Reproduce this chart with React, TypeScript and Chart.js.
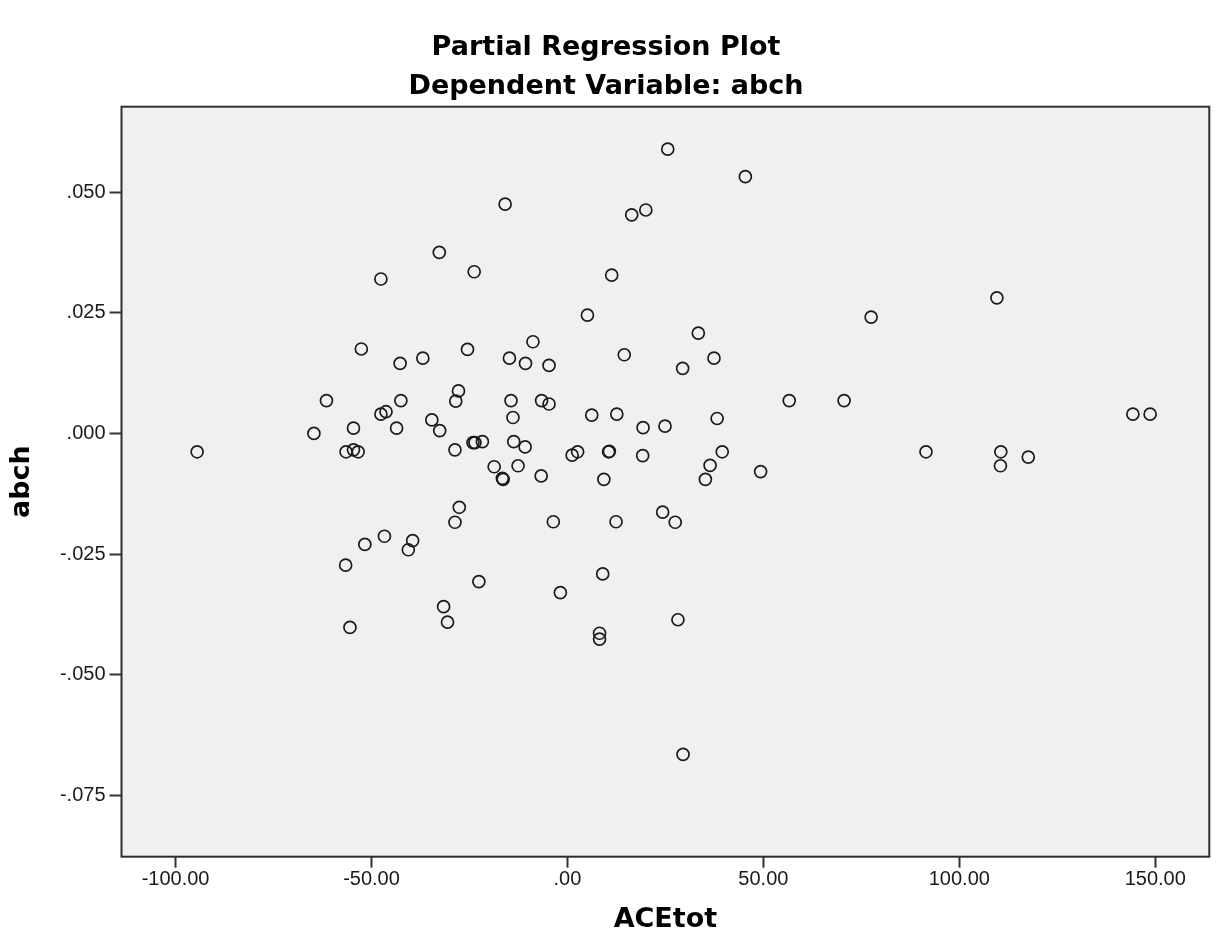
import React, { useEffect, useRef } from 'react';
import { Chart, registerables } from 'chart.js';

Chart.register(...registerables);

// ACEtot (x) and abch (y) partial residuals
const aceTot = [
  -94.5, -15.9, -32.7, -23.8, -47.6, 5.1, -52.6, -25.5, -8.8, -42.7,
  -36.9, -14.8, -10.7, -4.7, -61.5, -42.5, -27.8, -28.5, -14.4, -6.6,
  -4.7, -13.9, 6.2, -47.6, -46.3, -34.6, -32.6, -54.6, -43.6, -64.7,
  -56.5, -54.6, -53.4, -28.7, -24.1, -23.6, -21.7, -13.7, -10.8, 1.2,
  2.6, -18.7, -12.6, -16.6, -16.4, -6.7, -27.6, -28.7, -3.6, -46.7,
  -51.7, -39.5, -40.6, -56.6, -22.6, -1.8, -31.6, -30.6, -55.5, 9.0,
  8.2, 8.2, 28.2, 29.5, 19.3, 24.9, 38.2, 10.5, 10.7, 19.2,
  39.5, 36.4, 35.2, 49.3, 9.3, 91.5, 110.6, 110.5, 117.6, 24.3,
  27.5, 12.4, 25.6, 45.4, 16.4, 20.0, 11.3, 109.6, 77.5, 33.4,
  14.5, 37.4, 29.4, 56.6, 70.6, 12.6, 144.3, 148.7,
];
const abch = [
  -0.0038, 0.0475, 0.0375, 0.0335, 0.032, 0.0245, 0.0175, 0.0174, 0.019, 0.0145,
  0.0156, 0.0156, 0.0145, 0.0141, 0.0068, 0.0068, 0.0088, 0.0067, 0.0068, 0.0068,
  0.0061, 0.0033, 0.0038, 0.004, 0.0045, 0.0028, 0.0006, 0.0011, 0.0011, 0.0,
  -0.0038, -0.0034, -0.0038, -0.0034, -0.0019, -0.0019, -0.0017, -0.0017, -0.0028, -0.0045,
  -0.0038, -0.0069, -0.0067, -0.0093, -0.0095, -0.0088, -0.0153, -0.0184, -0.0183, -0.0213,
  -0.023, -0.0222, -0.0241, -0.0273, -0.0307, -0.033, -0.0359, -0.0391, -0.0402, -0.0291,
  -0.0414, -0.0426, -0.0386, -0.0665, 0.0012, 0.0015, 0.0031, -0.0038, -0.0037, -0.0046,
  -0.0038, -0.0066, -0.0095, -0.0079, -0.0095, -0.0038, -0.0038, -0.0067, -0.0049, -0.0163,
  -0.0184, -0.0183, 0.0589, 0.0532, 0.0453, 0.0463, 0.0328, 0.0281, 0.0241, 0.0208,
  0.0163, 0.0156, 0.0135, 0.0068, 0.0068, 0.004, 0.004, 0.004,
];

const xTickValues = [-100, -50, 0, 50, 100, 150];
const xTickLabels = ['-100.00', '-50.00', '.00', '50.00', '100.00', '150.00'];
const yTickValues = [-0.075, -0.05, -0.025, 0, 0.025, 0.05];
const yTickLabels = ['-.075', '-.050', '-.025', '.000', '.025', '.050'];

const titleLines = ['Partial Regression Plot', 'Dependent Variable: abch'];
const xAxisTitle = 'ACEtot';
const yAxisTitle = 'abch';

const framePlugin = {
  id: 'spssFrame',
  beforeDraw(chart: any) {
    const { ctx, chartArea: a } = chart;
    ctx.save();
    ctx.fillStyle = '#f0f0f0';
    ctx.fillRect(a.left, a.top, a.right - a.left, a.bottom - a.top);
    ctx.restore();
  },
  afterDraw(chart: any) {
    const { ctx, chartArea: a } = chart;
    ctx.save();
    ctx.strokeStyle = '#2e2e2e';
    ctx.lineWidth = 2;
    ctx.strokeRect(a.left, a.top, a.right - a.left, a.bottom - a.top);
    ctx.restore();
  },
};

export default function App() {
  const canvasRef = useRef<HTMLCanvasElement | null>(null);

  useEffect(() => {
    const canvas = canvasRef.current;
    if (!canvas) return;
    const points = aceTot.map((x, i) => ({ x, y: abch[i] }));
    const tickFont = { family: '"Liberation Sans", Arial, sans-serif', size: 20 };
    const titleFont = { family: '"DejaVu Sans", sans-serif', size: 27, weight: 'bold' as const };

    const chart = new Chart(canvas, {
      type: 'scatter',
      data: {
        datasets: [
          {
            data: points,
            pointStyle: 'circle',
            pointRadius: 6,
            pointHoverRadius: 6,
            pointBorderWidth: 1.7,
            borderColor: '#1a1a1a',
            backgroundColor: 'rgba(0,0,0,0)',
          },
        ],
      },
      options: {
        responsive: false,
        animation: false,
        devicePixelRatio: 1,
        layout: { padding: { left: 0, right: 5, top: 0, bottom: 0 } },
        plugins: {
          legend: { display: false },
          tooltip: { enabled: false },
          title: {
            display: true,
            text: titleLines,
            color: '#000000',
            font: { ...titleFont, lineHeight: 39 / 27 },
            padding: { top: 28.7, bottom: 0 },
          },
        },
        scales: {
          x: {
            type: 'linear',
            min: -113.8,
            max: 163.8,
            afterBuildTicks: (s: any) => {
              s.ticks = xTickValues.map((v) => ({ value: v }));
            },
            afterFit: (s: any) => {
              s.height = 92.3;
            },
            ticks: {
              autoSkip: false,
              maxRotation: 0,
              padding: 0,
              color: '#1a1a1a',
              font: tickFont,
              callback: (v: any) => xTickLabels[xTickValues.indexOf(Number(v))] ?? '',
            },
            grid: {
              display: true,
              drawOnChartArea: false,
              drawTicks: true,
              tickLength: 11,
              tickWidth: 2,
              tickColor: '#333333',
            },
            border: { display: false },
            title: {
              display: true,
              text: xAxisTitle,
              color: '#000000',
              font: titleFont,
              padding: { top: 0, bottom: 13 },
            },
          },
          y: {
            type: 'linear',
            min: -0.0877,
            max: 0.0677,
            afterBuildTicks: (s: any) => {
              s.ticks = yTickValues.map((v) => ({ value: v }));
            },
            afterFit: (s: any) => {
              s.width = 121.5;
            },
            ticks: {
              autoSkip: false,
              padding: 4,
              color: '#1a1a1a',
              font: tickFont,
              callback: (v: any) => {
                const i = yTickValues.findIndex((t) => Math.abs(t - Number(v)) < 1e-9);
                return i >= 0 ? yTickLabels[i] : '';
              },
            },
            grid: {
              display: true,
              drawOnChartArea: false,
              drawTicks: true,
              tickLength: 12,
              tickWidth: 2,
              tickColor: '#333333',
            },
            border: { display: false },
            title: {
              display: true,
              text: yAxisTitle,
              color: '#000000',
              font: titleFont,
              padding: { top: 6, bottom: 0 },
            },
          },
        },
      },
      plugins: [framePlugin],
    });

    return () => {
      chart.destroy();
    };
  }, []);

  return (
    <div style={{ position: 'absolute', left: 0, top: 0, width: 1217, height: 949, background: '#ffffff' }}>
      <canvas ref={canvasRef} width={1217} height={949} style={{ display: 'block' }} />
    </div>
  );
}
